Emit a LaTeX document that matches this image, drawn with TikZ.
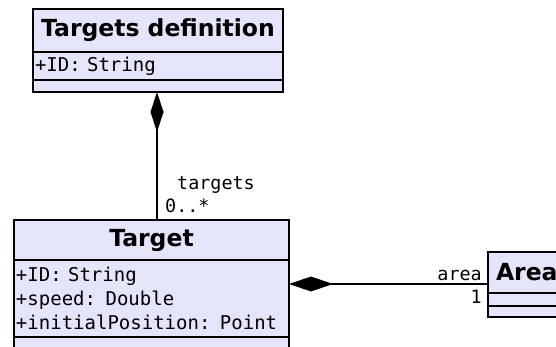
\documentclass[tikz,border=0pt]{standalone}
\usepackage{fontspec}
\setmainfont{DejaVu Sans}
\setmonofont{DejaVu Sans Mono}[WordSpace={1,0,0}]
\usetikzlibrary{arrows.meta}
\definecolor{classfill}{RGB}{228,228,250}
\tikzset{
  x=1pt, y=-1pt,
  compart/.style={draw=black, line width=2.4pt, fill=classfill, inner sep=0pt,
    anchor=north west, outer sep=0pt},
  titlebox/.style={compart, font=\fontsize{23.5}{27}\selectfont\bfseries},
  attrbox/.style={compart, font=\fontsize{19}{24}\selectfont\ttfamily,
    align=left, inner xsep=2pt},
  rolelabel/.style={font=\fontsize{18.4}{22}\selectfont\ttfamily, inner sep=0pt},
  comp/.style={draw=black, line width=2pt},
}
\begin{document}
\begin{tikzpicture}
\useasboundingbox (0,0) rectangle (556,347);
\clip (0,0) rectangle (556,347);
\fill[white] (0,0) rectangle (556,347);

% Targets definition
\node[titlebox, minimum width=250pt, minimum height=43pt] (tdeft) at (33,9) {Targets definition};
\node[attrbox, minimum width=250pt, minimum height=28pt, text width=246pt] (tdefa) at (33,52) {+ID: String};
\node[compart, minimum width=250pt, minimum height=12pt] (tdefo) at (33,80) {};

% Target
\node[titlebox, minimum width=275pt, minimum height=40pt] (tgtt) at (14,220) {Target};
\node[attrbox, minimum width=275pt, minimum height=77pt, text width=271pt] (tgta) at (14,260)
  {+ID: String\\+speed: Double\\+initialPosition: Point};
\node[compart, minimum width=275pt, minimum height=30pt] (tgto) at (14,337) {};

% Area
\node[titlebox, minimum width=140pt, minimum height=41pt, text width=124pt, inner xsep=8pt, align=left] (areat) at (488,252) {Area};
\node[compart, minimum width=140pt, minimum height=13pt] (areaa) at (488,293) {};
\node[compart, minimum width=140pt, minimum height=11pt] (areao) at (488,306) {};

% Composition: Targets definition -- Target
\coordinate (c1) at (157,92);
\draw[comp, {Diamond[length=40pt,width=13pt]}-] (c1) -- (c1 |- tgtt.north);
\node[rolelabel, anchor=base west] (lt) at (177,190) {targets};
\node[rolelabel, anchor=base west] (lm) at (165,212) {0..*};

% Composition: Target -- Area
\coordinate (c2) at (289,284);
\draw[comp, {Diamond[length=44pt,width=15pt]}-] (c2) -- (c2 -| areat.west);
\node[rolelabel, anchor=base east] (la) at (482,280) {area};
\node[rolelabel, anchor=base east] (l1) at (482,303) {1};
\end{tikzpicture}
\end{document}
